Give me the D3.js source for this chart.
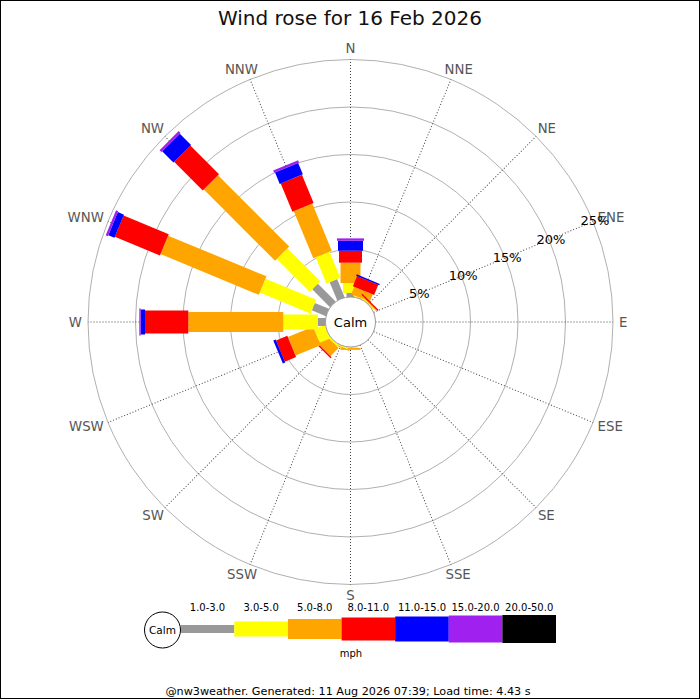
<!DOCTYPE html>
<html>
<head>
    <title>Wind rose for 16 Feb 2026</title>
    <script src="https://d3js.org/d3.v7.min.js"></script>
    <style>
        body { margin: 0; background: #fff; }
        text { font-family: "DejaVu Sans", sans-serif; }
    </style>
</head>
<body>
    <svg width="700" height="700"></svg>
    <script>
        // compass directions, clockwise from north
        const directions = ["N", "NNE", "NE", "ENE", "E", "ESE", "SE", "SSE",
                            "S", "SSW", "SW", "WSW", "W", "WNW", "NW", "NNW"];
        // wind speed classes (mph)
        const speedBins = ["1.0-3.0", "3.0-5.0", "5.0-8.0", "8.0-11.0",
                           "11.0-15.0", "15.0-20.0", "20.0-50.0"];
        // percent of time per direction, one value per speed class
        const freqN   = [0.42, 1.05, 2.14, 1.26, 1.05, 0.25, 0];
        const freqNNE = [0, 0.1, 0.85, 1.15, 0.15, 0, 0];
        const freqNE  = [0, 0.1, 0.1, 0.15, 0, 0, 0];
        const freqENE = [0, 0, 0, 0, 0, 0, 0];
        const freqE   = [0, 0, 0, 0, 0, 0, 0];
        const freqESE = [0, 0, 0, 0, 0, 0, 0];
        const freqSE  = [0, 0, 0, 0, 0, 0, 0];
        const freqSSE = [0, 0, 0, 0, 0, 0, 0];
        const freqS   = [0, 0.1, 0.2, 0, 0, 0, 0];
        const freqSSW = [0, 0.15, 0.1, 0, 0, 0, 0];
        const freqSW  = [0, 0.2, 1.2, 0.15, 0, 0, 0];
        const freqWSW = [0, 1.2, 2.87, 1.28, 0.27, 0, 0];
        const freqW   = [0.82, 3.62, 10.0, 4.56, 0.45, 0.15, 0];
        const freqWNW = [1.6, 5.78, 11.2, 5.14, 0.7, 0.25, 0];
        const freqNW  = [2.65, 4.9, 10.6, 4.27, 1.67, 0.28, 0];
        const freqNNW = [2.08, 2.98, 5.37, 3.22, 1.3, 0.26, 0];
        // range circle ticks (%)
        const rangeTicks = [5, 10, 15, 20, 25];

        const freqs = [freqN, freqNNE, freqNE, freqENE, freqE, freqESE, freqSE, freqSSE,
                       freqS, freqSSW, freqSW, freqWSW, freqW, freqWNW, freqNW, freqNNW];

        const colors = ["#999999", "#ffff00", "#ffa500", "#ff0000", "#0000ff", "#a020f0", "#000000"];
        const segWidth = [8, 15, 20, 23, 25, 27, 28];

        const svg = d3.select("svg"),
              cx = 350.5, cy = 322,
              calmR = 25, outerR = 262.5;

        svg.append("rect")
           .attr("x", 0.5).attr("y", 0.5)
           .attr("width", 699).attr("height", 698)
           .attr("fill", "#fff").attr("stroke", "#000");

        svg.append("text")
           .attr("x", 350).attr("y", 25)
           .attr("text-anchor", "middle")
           .attr("font-size", 20)
           .attr("fill", "#111")
           .text("Wind rose for 16 Feb 2026");

        const r = d3.scaleLinear().domain([0, 25]).range([calmR, outerR]);
        const angle = d3.scaleLinear().domain([0, directions.length]).range([0, 360]);

        const g = svg.append("g").attr("transform", `translate(${cx},${cy})`);

        // range circles
        g.selectAll(".ring")
         .data(rangeTicks)
         .enter().append("circle")
         .attr("class", "ring")
         .attr("r", d => r(d))
         .attr("fill", "none")
         .attr("stroke", "#b0b0b0");

        // spokes
        g.selectAll(".spoke")
         .data(directions)
         .enter().append("line")
         .attr("class", "spoke")
         .attr("transform", (d, i) => `rotate(${angle(i)})`)
         .attr("y1", -calmR).attr("y2", -outerR)
         .attr("stroke", "#444")
         .attr("stroke-dasharray", "1,2");

        // direction labels: half the text box added per axis
        g.selectAll(".dir")
         .data(directions)
         .enter().append("text")
         .attr("class", "dir")
         .attr("font-size", 13.3)
         .attr("fill", "#555")
         .attr("text-anchor", "middle")
         .attr("dy", "0.36em")
         .text(d => d)
         .each(function(d, i) {
             const a = angle(i) * Math.PI / 180,
                   w = this.getComputedTextLength() / 2,
                   base = outerR + 6;
             d3.select(this)
               .attr("x", (base + w) * Math.sin(a))
               .attr("y", -(base + 5) * Math.cos(a));
         });

        // bars
        directions.forEach((dir, i) => {
            const vals = freqs[i],
                  cum = d3.cumsum(vals);
            const bar = g.append("g").attr("transform", `rotate(${angle(i)})`);
            vals.forEach((v, j) => {
                if (!v) return;
                const r0 = r(j ? cum[j - 1] : 0), r1 = r(cum[j]);
                bar.append("rect")
                   .attr("x", -segWidth[j] / 2)
                   .attr("y", -r1)
                   .attr("width", segWidth[j])
                   .attr("height", r1 - r0)
                   .attr("fill", colors[j]);
            });
        });

        // range labels along the ENE spoke
        const la = angle(3) * Math.PI / 180;
        g.selectAll(".rlabel")
         .data(rangeTicks)
         .enter().append("text")
         .attr("class", "rlabel")
         .attr("font-size", 13)
         .attr("fill", "#000")
         .attr("text-anchor", "middle")
         .attr("dy", "0.36em")
         .attr("x", d => (r(d) + 2) * Math.sin(la))
         .attr("y", d => -(r(d) + 2) * Math.cos(la))
         .text(d => d + "%");

        // calm circle
        g.append("circle")
         .attr("r", calmR)
         .attr("fill", "#fff")
         .attr("stroke", "#999");
        g.append("text")
         .attr("text-anchor", "middle")
         .attr("dy", "0.36em")
         .attr("font-size", 13)
         .text("Calm");

        // legend
        const lx = d3.scaleBand().domain(speedBins).range([180.7, 556]),
              ly = 629;

        const leg = svg.append("g");
        leg.selectAll(".lbar")
           .data(speedBins)
           .enter().append("rect")
           .attr("class", "lbar")
           .attr("x", d => lx(d))
           .attr("width", lx.bandwidth())
           .attr("y", (d, j) => ly - segWidth[j] / 2)
           .attr("height", (d, j) => segWidth[j])
           .attr("fill", (d, j) => colors[j]);

        leg.selectAll(".ltext")
           .data(speedBins)
           .enter().append("text")
           .attr("class", "ltext")
           .attr("x", d => lx(d) + lx.bandwidth() / 2)
           .attr("y", 611)
           .attr("text-anchor", "middle")
           .attr("font-size", 10)
           .text(d => d);

        leg.append("circle")
           .attr("cx", 162.5).attr("cy", 630).attr("r", 18)
           .attr("fill", "#fff").attr("stroke", "#000");
        leg.append("text")
           .attr("x", 162.5).attr("y", 630)
           .attr("dy", "0.36em")
           .attr("text-anchor", "middle")
           .attr("font-size", 10.5)
           .text("Calm");

        leg.append("text")
           .attr("x", 351).attr("y", 657)
           .attr("text-anchor", "middle")
           .attr("font-size", 10)
           .text("mph");

        svg.append("text")
           .attr("x", 348).attr("y", 695)
           .attr("text-anchor", "middle")
           .attr("font-size", 11.2)
           .text("@nw3weather. Generated: 11 Aug 2026 07:39; Load time: 4.43 s");
    </script>
</body>
</html>
